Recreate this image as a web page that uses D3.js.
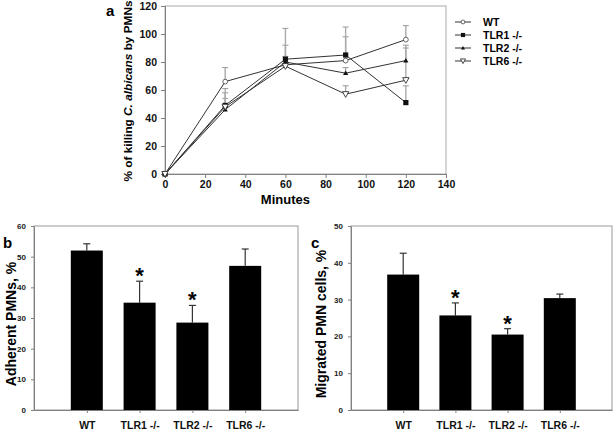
<!DOCTYPE html>
<html>
<head>
<meta charset="utf-8">
<script src="https://cdn.jsdelivr.net/npm/d3@7"></script>
<style>
  body { margin: 0; background: #fff; }
  text { font-family: "Liberation Sans", Arial, sans-serif; }
</style>
</head>
<body>
<script>
// panel a: killing time course
const minutes = [0, 30, 60, 90, 120];
const wt   = [0, 66, 78, 81, 96];
const tlr1 = [0, 49, 82, 85, 51];
const tlr2 = [0, 46, 80, 72, 81];
const tlr6 = [0, 48, 77, 57, 67];
// upper error bars (SD)
const wtErr   = [0, 10, 14, 17, 10];
const tlr1Err = [0, 5, 22, 20, 12];
const tlr2Err = [0, 12, 4, 4, 11];
const tlr6Err = [0, 13, 3, 6, 23];
const xTicksA = [0, 20, 40, 60, 80, 100, 120, 140];
const yTicksA = [0, 20, 40, 60, 80, 100, 120];

// panels b and c
const groups = ["WT", "TLR1 -/-", "TLR2 -/-", "TLR6 -/-"];
const adherent = [52, 35, 28.5, 47];
const adherentErr = [2.2, 7, 5.6, 5.5];
const migrated = [36.8, 25.7, 20.5, 30.4];
const migratedErr = [5.8, 3.4, 1.6, 1.1];
const signif = [false, true, true, false];
const yTicksB = [0, 10, 20, 30, 40, 50, 60];
const yTicksC = [0, 10, 20, 30, 40, 50];

const width = 614, height = 431;
const svg = d3.select("body").append("svg")
  .attr("width", width).attr("height", height);

const axisGray = "#808080";

// ---------- panel a ----------
const xa = d3.scaleLinear().domain([0, 140]).range([165, 446]);
const ya = d3.scaleLinear().domain([0, 120]).range([174, 6]);

const gA = svg.append("g");

// frame
gA.append("rect")
  .attr("x", xa(0)).attr("y", ya(120))
  .attr("width", xa(140) - xa(0)).attr("height", ya(0) - ya(120))
  .attr("fill", "none").attr("stroke", "#aaa").attr("stroke-width", 1);

const axA = gA.append("g").attr("transform", `translate(0,${ya(0)})`)
  .call(d3.axisBottom(xa).tickValues(xTicksA).tickSize(4).tickPadding(3));
const ayA = gA.append("g").attr("transform", `translate(${xa(0)},0)`)
  .call(d3.axisLeft(ya).tickValues(yTicksA).tickSize(4).tickPadding(4));
[axA, ayA].forEach(a => {
  a.selectAll("path, line").attr("stroke", axisGray);
  a.selectAll("text").attr("font-size", 10.5).attr("font-weight", "bold").attr("fill", "#111");
});

const series = [
  { name: "WT", vals: wt, err: wtErr, marker: "circle" },
  { name: "TLR1 -/-", vals: tlr1, err: tlr1Err, marker: "square" },
  { name: "TLR2 -/-", vals: tlr2, err: tlr2Err, marker: "triangle" },
  { name: "TLR6 -/-", vals: tlr6, err: tlr6Err, marker: "down" }
];

// error bars (upper)
series.forEach(s => {
  minutes.forEach((m, i) => {
    if (s.err[i] === 0) return;
    const x = xa(m), y1 = ya(s.vals[i] + s.err[i]), y0 = ya(s.vals[i]);
    gA.append("line").attr("x1", x).attr("x2", x).attr("y1", y1).attr("y2", y0)
      .attr("stroke", "#aaa").attr("stroke-width", 1.4);
    gA.append("line")
      .attr("x1", x - 3).attr("x2", x + 3).attr("y1", y1).attr("y2", y1)
      .attr("stroke", "#999").attr("stroke-width", 1);
  });
});

const line = d3.line().x((d, i) => xa(minutes[i])).y(d => ya(d));

function drawMarker(g, type, x, y, k = 1) {
  if (type === "circle") {
    g.append("circle").attr("cx", x).attr("cy", y).attr("r", 2.4 * k)
      .attr("fill", "#fff").attr("stroke", "#444").attr("stroke-width", 0.8);
  } else if (type === "square") {
    const h = 2.6 * k;
    g.append("rect").attr("x", x - h).attr("y", y - h).attr("width", 2 * h).attr("height", 2 * h)
      .attr("fill", "#111");
  } else if (type === "triangle") {
    const h = 2.6 * k;
    g.append("path").attr("d", `M${x},${y - h}L${x + h},${y + h * 0.7}L${x - h},${y + h * 0.7}Z`)
      .attr("fill", "#111");
  } else {
    const h = 3.2 * k;
    g.append("path").attr("d", `M${x - h},${y - h * 0.8}L${x + h},${y - h * 0.8}L${x},${y + h}Z`)
      .attr("fill", "#fff").attr("stroke", "#333").attr("stroke-width", 0.9);
  }
}

series.forEach(s => {
  gA.append("path").datum(s.vals).attr("d", line)
    .attr("fill", "none").attr("stroke", "#333").attr("stroke-width", 1);
});
series.forEach(s => {
  s.vals.forEach((v, i) => drawMarker(gA, s.marker, xa(minutes[i]), ya(v)));
});

// axis titles
gA.append("text").attr("x", xa(60)).attr("y", 204).attr("text-anchor", "middle")
  .attr("font-size", 13).attr("font-weight", "bold").text("Minutes");
const yt = gA.append("text").attr("transform", `translate(132,${ya(60) + 1}) rotate(-90)`)
  .attr("text-anchor", "middle").attr("font-size", 11.8).attr("font-weight", "bold");
yt.append("tspan").text("% of killing ");
yt.append("tspan").attr("font-style", "italic").text("C. albicans");
yt.append("tspan").text(" by PMNs");
gA.append("text").attr("x", 106).attr("y", 16).attr("font-size", 15).attr("font-weight", "bold").text("a");

// legend
const leg = gA.append("g").attr("transform", "translate(455,22)");
series.forEach((s, i) => {
  const y = i * 13;
  leg.append("line").attr("x1", 0).attr("x2", 16).attr("y1", y).attr("y2", y)
    .attr("stroke", "#333").attr("stroke-width", 1);
  drawMarker(leg, s.marker, 8, y, 0.8);
  leg.append("text").attr("x", 28).attr("y", y + 4).attr("font-size", 10.5)
    .attr("font-weight", "bold").text(s.name);
});

// ---------- panels b and c ----------
function barPanel(opts) {
  const g = svg.append("g");
  const x = d3.scalePoint().domain(groups).range([opts.left, opts.right]).padding(1);
  const y = d3.scaleLinear().domain([0, opts.max]).range([410, 226]);
  const bw = 32;

  g.append("rect").attr("x", opts.left).attr("y", y(opts.max))
    .attr("width", opts.right - opts.left).attr("height", y(0) - y(opts.max))
    .attr("fill", "none").attr("stroke", "#999");

  // error bars (upper only)
  groups.forEach((grp, i) => {
    const cx = x(grp);
    const top = y(opts.vals[i] + opts.err[i]);
    g.append("line").attr("x1", cx).attr("x2", cx).attr("y1", y(opts.vals[i])).attr("y2", top)
      .attr("stroke", "#333").attr("stroke-width", 1.2);
    g.append("line").attr("x1", cx - 3.5).attr("x2", cx + 3.5).attr("y1", top).attr("y2", top)
      .attr("stroke", "#333").attr("stroke-width", 1.2);
    if (signif[i]) {
      g.append("text").attr("x", cx).attr("y", top + 2).attr("text-anchor", "middle")
        .attr("font-size", 22).attr("font-weight", "bold").text("*");
    }
  });

  g.selectAll("rect.bar").data(opts.vals).enter().append("rect").attr("class", "bar")
    .attr("x", (d, i) => x(groups[i]) - bw / 2).attr("width", bw)
    .attr("y", d => y(d)).attr("height", d => y(0) - y(d))
    .attr("fill", "#000");

  const ax = g.append("g").attr("transform", `translate(0,${y(0)})`)
    .call(d3.axisBottom(x).tickSize(3).tickPadding(9).tickSizeOuter(0));
  ax.selectAll("text").attr("font-size", 10.5).attr("font-weight", "bold").attr("fill", "#111");
  const ay = g.append("g").attr("transform", `translate(${opts.left},0)`)
    .call(d3.axisLeft(y).tickValues(opts.ticks).tickSize(3).tickPadding(5).tickSizeOuter(0));
  ay.selectAll("text").attr("font-size", 8).attr("font-weight", "bold").attr("fill", "#222");
  [ax, ay].forEach(a => a.selectAll("path, line").attr("stroke", axisGray));

  g.append("text").attr("transform", `translate(${opts.labelX},${y(opts.max / 2) + 6}) rotate(-90)`)
    .attr("text-anchor", "middle").attr("font-size", 14).attr("font-weight", "bold")
    .text(opts.title);
  g.append("text").attr("x", opts.letterX).attr("y", 248).attr("font-size", 15)
    .attr("font-weight", "bold").text(opts.letter);
}

barPanel({ left: 34, right: 298, max: 60, ticks: yTicksB, vals: adherent, err: adherentErr,
  title: "Adherent PMNs, %", labelX: 16, letter: "b", letterX: 3 });
barPanel({ left: 351, right: 612, max: 50, ticks: yTicksC, vals: migrated, err: migratedErr,
  title: "Migrated PMN cells, %", labelX: 326, letter: "c", letterX: 311 });
</script>
</body>
</html>
